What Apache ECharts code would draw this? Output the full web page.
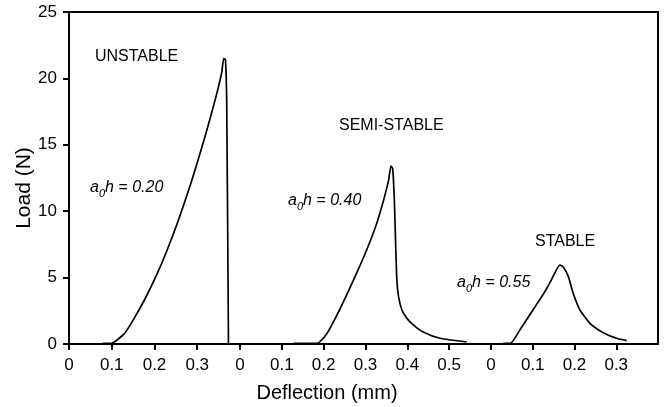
<!DOCTYPE html>
<html>
<head>
<meta charset="utf-8">
<script src="https://cdn.jsdelivr.net/npm/echarts@6/dist/echarts.min.js"></script>
<style>
  html, body { margin: 0; padding: 0; background: #fff; }
  #chart { width: 666px; height: 407px; }
</style>
</head>
<body>
<div id="chart"></div>
<script>
// each specimen has its own deflection scale, laid side by side
const panelMax = [0.4, 0.6, 0.4]

// a0/h = 0.20  (unstable)
const unstableX = [0.079, 0.099, 0.107, 0.130, 0.150, 0.177, 0.205, 0.228, 0.255, 0.287, 0.318, 0.342, 0.357, 0.362, 0.366, 0.369, 0.373]
const unstableY = [0.05, 0.05, 0.17, 0.8, 1.8, 3.35, 5.2, 6.95, 9.25, 12.3, 15.6, 18.4, 20.4, 21.5, 21.4, 17.9, 0]

// a0/h = 0.40  (semi-stable)
const semiX = [0.128, 0.183, 0.191, 0.208, 0.232, 0.255, 0.279, 0.303, 0.327, 0.343, 0.355, 0.361, 0.365, 0.369, 0.372, 0.375, 0.379, 0.387, 0.399, 0.412, 0.438, 0.478, 0.542]
const semiY = [0.05, 0.05, 0.17, 0.8, 2.2, 3.7, 5.35, 7.1, 9.1, 10.8, 12.3, 13.4, 13.2, 10.8, 7.6, 4.8, 3.56, 2.56, 1.93, 1.5, 0.9, 0.43, 0.15]

// a0/h = 0.55  (stable)
const stableX = [0.029, 0.046, 0.069, 0.093, 0.117, 0.131, 0.145, 0.157, 0.165, 0.173, 0.185, 0.197, 0.213, 0.237, 0.269, 0.301, 0.325]
const stableY = [0.05, 0.05, 1.05, 2.2, 3.35, 4.05, 4.85, 5.6, 5.95, 5.8, 5.1, 3.8, 2.56, 1.56, 0.85, 0.43, 0.25]

const chart = echarts.init(document.getElementById('chart'))

const font = '"Liberation Sans", Arial, sans-serif'
const black = { color: '#000', width: 2 }

const grids = [
  { left: 69, top: 12, width: 171, bottom: 63 },
  { left: 240, top: 12, width: 251, bottom: 63 },
  { left: 491, top: 12, width: 167, bottom: 63 }
]

const fmt = (v) => String(Math.round(v * 10) / 10)

const xAxes = []
panelMax.forEach((max, i) => {
  xAxes.push({
    gridIndex: i,
    type: 'value',
    min: 0,
    max: max,
    interval: 0.1,
    position: 'bottom',
    axisLine: { onZero: false, lineStyle: black },
    axisTick: { length: 6, lineStyle: black },
    axisLabel: { showMaxLabel: false, margin: 13, fontSize: 17, color: '#000', fontFamily: font, formatter: fmt },
    splitLine: { show: false }
  })
  // top frame line
  xAxes.push({
    gridIndex: i,
    type: 'value',
    min: 0,
    max: max,
    position: 'top',
    axisLine: { onZero: false, lineStyle: black },
    axisTick: { show: false },
    axisLabel: { show: false },
    splitLine: { show: false }
  })
})

const yAxes = [
  {
    gridIndex: 0,
    type: 'value',
    min: 0,
    max: 25,
    interval: 5,
    axisLine: { show: true, onZero: false, lineStyle: black },
    axisTick: { show: true, length: 6, lineStyle: black },
    axisLabel: { margin: 12, fontSize: 17, color: '#000', fontFamily: font },
    splitLine: { show: false }
  },
  { gridIndex: 1, type: 'value', min: 0, max: 25, show: false },
  {
    gridIndex: 2,
    type: 'value',
    min: 0,
    max: 25,
    position: 'right',
    axisLine: { show: true, onZero: false, lineStyle: black },
    axisTick: { show: false },
    axisLabel: { show: false },
    splitLine: { show: false }
  }
]

const zip = (xs, ys) => xs.map((x, i) => [x, ys[i]])
const curve = (idx, xs, ys) => ({
  type: 'line',
  xAxisIndex: idx * 2,
  yAxisIndex: idx,
  data: zip(xs, ys),
  showSymbol: false,
  smooth: 0.2,
  lineStyle: { color: '#000', width: 1.7 },
  silent: true
})

const textStyle = (size, extra) => Object.assign({ fontSize: size, fontFamily: font, fill: '#000', color: '#000' }, extra || {})
const ratioLabel = (x, y, value) => ({
  type: 'text',
  x: x,
  y: y,
  style: {
    text: '{i|a}{s|0}{i|h = ' + value + '}',
    textVerticalAlign: 'middle',
    verticalAlign: 'middle',
    rich: {
      i: textStyle(16, { fontStyle: 'italic' }),
      s: textStyle(11, { fontStyle: 'italic', padding: [12, 0, 0, 0] })
    }
  }
})
const plainLabel = (x, y, text) => ({
  type: 'text',
  x: x,
  y: y,
  style: { text: text, font: '16px ' + font, fill: '#000', textVerticalAlign: 'middle', verticalAlign: 'middle' }
})

chart.setOption({
  animation: false,
  backgroundColor: '#fff',
  grid: grids,
  xAxis: xAxes,
  yAxis: yAxes,
  series: [
    curve(0, unstableX, unstableY),
    curve(1, semiX, semiY),
    curve(2, stableX, stableY)
  ],
  graphic: [
    plainLabel(95, 57, 'UNSTABLE'),
    plainLabel(339, 126, 'SEMI-STABLE'),
    plainLabel(535, 242, 'STABLE'),
    ratioLabel(90, 188, '0.20'),
    ratioLabel(288, 201, '0.40'),
    ratioLabel(457, 283, '0.55'),
    {
      type: 'text',
      x: 24,
      y: 188,
      rotation: Math.PI / 2,
      style: { text: 'Load (N)', font: '21px ' + font, fill: '#000', textAlign: 'center', align: 'center', textVerticalAlign: 'middle', verticalAlign: 'middle' }
    },
    {
      type: 'text',
      x: 327,
      y: 393,
      style: { text: 'Deflection (mm)', font: '20px ' + font, fill: '#000', textAlign: 'center', align: 'center', textVerticalAlign: 'middle', verticalAlign: 'middle' }
    }
  ]
})
</script>
</body>
</html>
